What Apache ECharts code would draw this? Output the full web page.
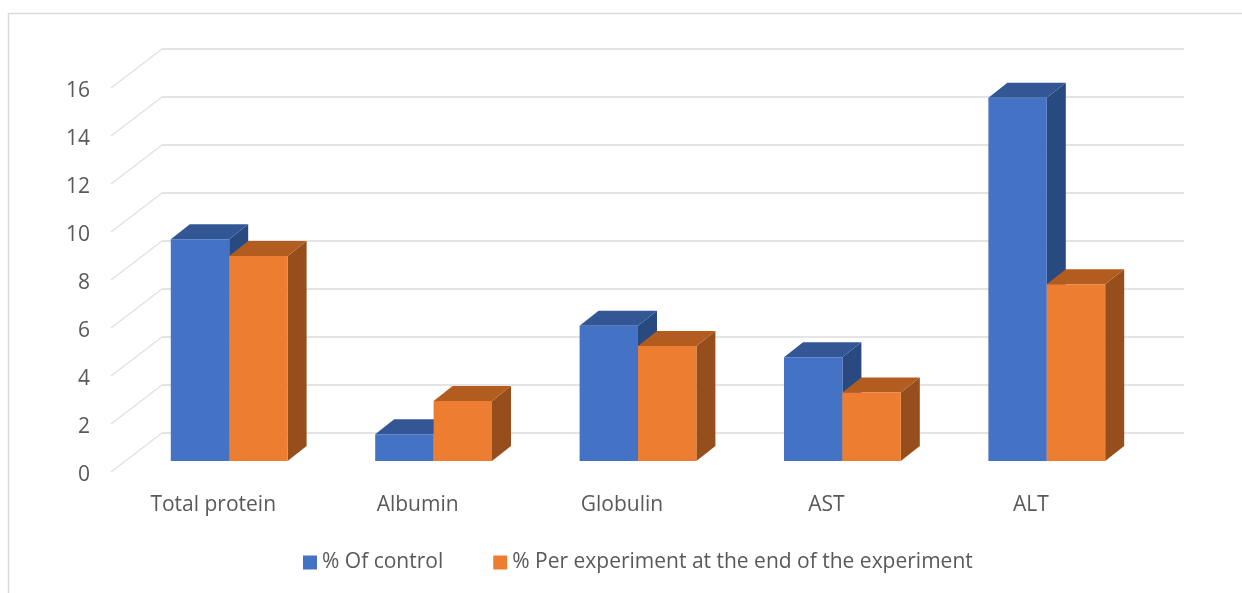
<!DOCTYPE html>
<html>
<head>
<meta charset="utf-8">
<style>html,body{margin:0;padding:0;background:#fff}#chart{width:1242px;height:593px}</style>
<script src="https://cdn.jsdelivr.net/npm/echarts@6/dist/echarts.min.js"></script>
</head>
<body>
<div id="chart"></div>
<script>
// Serum markers, 3D-style clustered columns
const categories = ['Total protein', 'Albumin', 'Globulin', 'AST', 'ALT'];
const controlName = '% Of control';
const experimentName = '% Per experiment at the end of the experiment';
const controlValues = [9.24, 1.11, 5.64, 4.32, 15.14];
const experimentValues = [8.54, 2.5, 4.79, 2.85, 7.36];
const yTicks = [0, 2, 4, 6, 8, 10, 12, 14, 16];

// Projection of the chart box: wall offset and column depth, in pixels
const WALL_DX = 51, WALL_DY = 39;
const BAR_INSET_DX = 16, BAR_INSET_DY = 11;
const BAR_DEPTH_DX = 19, BAR_DEPTH_DY = 15;
const BAR_BAND_RATIO = 1 / 3.5;

const TEXT = '#595959';
const FONT = '"Open Sans", sans-serif';

function gridRenderer(params, api) {
  const box = params.coordSys;
  const y = api.coord([0, api.value(0)])[1];
  const style = { fill: 'none', lineCap: 'butt' };
  return {
    type: 'group',
    children: [
      { type: 'line', shape: { x1: box.x, y1: y, x2: box.x + WALL_DX, y2: y - WALL_DY },
        style: Object.assign({ stroke: '#e3e3e3', lineWidth: 1.5 }, style) },
      { type: 'line', shape: { x1: box.x + WALL_DX, y1: y - WALL_DY, x2: box.x + box.width + WALL_DX, y2: y - WALL_DY },
        style: Object.assign({ stroke: '#e4e4e4', lineWidth: 2 }, style) }
    ]
  };
}

function columnRenderer(side, colors) {
  return function (params, api) {
    const idx = api.value(0);
    const top = api.coord([idx, api.value(1)]);
    const base = api.coord([idx, 0]);
    const width = api.size([1, 0])[0] * BAR_BAND_RATIO;
    const x0 = top[0] + BAR_INSET_DX + (side < 0 ? -width : 0);
    const x1 = x0 + width;
    const yTop = top[1] - BAR_INSET_DY;
    const yBase = base[1] - BAR_INSET_DY;
    const dx = BAR_DEPTH_DX, dy = BAR_DEPTH_DY;
    return {
      type: 'group',
      children: [
        { type: 'polygon', shape: { points: [[x1, yTop], [x1 + dx, yTop - dy], [x1 + dx, yBase - dy], [x1, yBase]] },
          style: { fill: colors.side } },
        { type: 'polygon', shape: { points: [[x0, yTop], [x0 + dx, yTop - dy], [x1 + dx, yTop - dy], [x1, yTop]] },
          style: { fill: colors.top } },
        { type: 'rect', shape: { x: x0, y: yTop, width: width, height: yBase - yTop },
          style: { fill: colors.front } }
      ]
    };
  };
}

const chart = echarts.init(document.getElementById('chart'), null, { renderer: 'canvas' });
chart.setOption({
  animation: false,
  backgroundColor: '#ffffff',
  textStyle: { fontFamily: FONT },
  tooltip: { show: false },
  grid: { left: 111, top: 88, width: 1022, height: 384 },
  xAxis: {
    type: 'category',
    data: categories,
    axisLine: { show: false },
    axisTick: { show: false },
    splitLine: { show: false },
    axisLabel: { color: TEXT, fontSize: 21, fontFamily: FONT, margin: 23 }
  },
  yAxis: {
    type: 'value',
    min: 0,
    max: 16,
    interval: 2,
    axisLine: { show: false },
    axisTick: { show: false },
    splitLine: { show: false },
    axisLabel: { color: TEXT, fontSize: 21, fontFamily: FONT, margin: 21, verticalAlign: 'top', lineHeight: 6 }
  },
  legend: {
    data: [controlName, experimentName],
    left: 303,
    top: 552,
    padding: 0,
    icon: 'rect',
    itemWidth: 14,
    itemHeight: 14,
    itemGap: 50,
    formatter: name => '{t|' + name + '}',
    textStyle: {
      color: TEXT, fontSize: 21, fontFamily: FONT,
      rich: { t: { color: TEXT, fontSize: 21, fontFamily: FONT, height: 25, verticalAlign: 'bottom' } }
    }
  },
  graphic: [{
    type: 'polyline',
    silent: true,
    shape: { points: [[8.5, 593], [8.5, 13.5], [1242, 13.5]] },
    style: { stroke: '#d9d9d9', lineWidth: 1.5, fill: 'none' }
  }],
  series: [
    {
      type: 'custom',
      z: 1,
      silent: true,
      renderItem: gridRenderer,
      encode: { y: 0 },
      data: yTicks.map(t => [t])
    },
    {
      type: 'custom',
      name: controlName,
      z: 2,
      itemStyle: { color: '#4472C4' },
      renderItem: columnRenderer(-1, { front: '#4472C4', top: '#335794', side: '#294A80' }),
      encode: { x: 0, y: 1 },
      data: controlValues.map((v, i) => [i, v])
    },
    {
      type: 'custom',
      name: experimentName,
      z: 3,
      itemStyle: { color: '#ED7D31' },
      renderItem: columnRenderer(1, { front: '#ED7D31', top: '#B35C20', side: '#964F1C' }),
      encode: { x: 0, y: 1 },
      data: experimentValues.map((v, i) => [i, v])
    }
  ]
});
</script>
</body>
</html>
